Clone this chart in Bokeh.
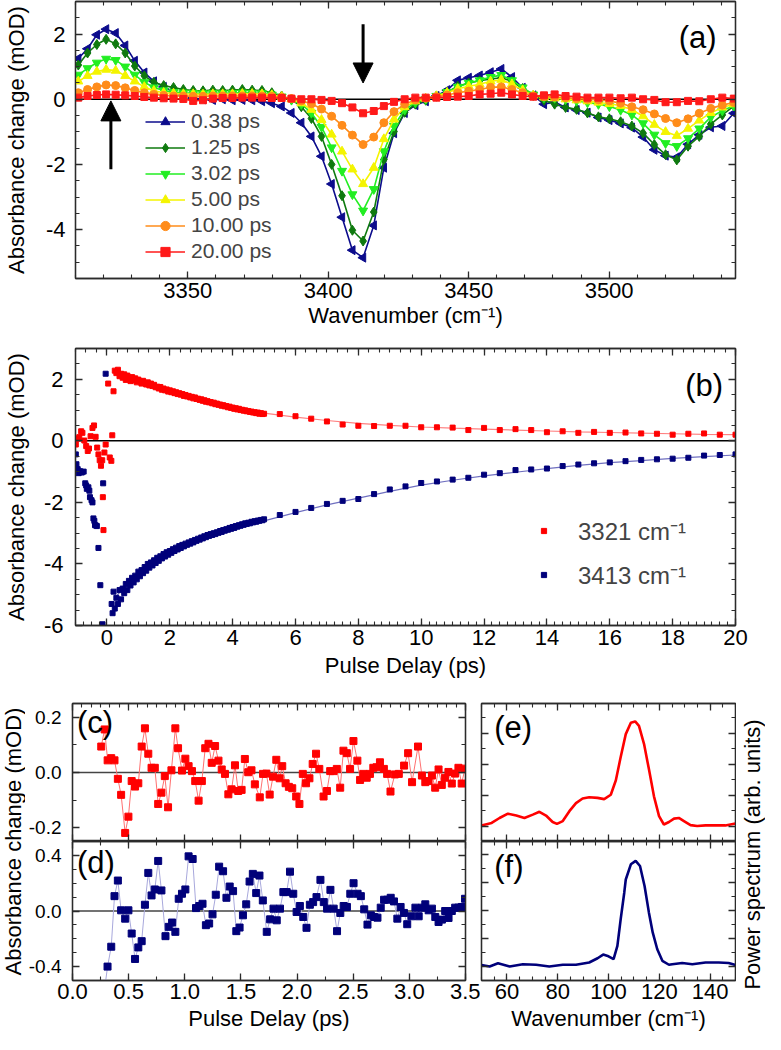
import numpy as np
from bokeh.plotting import figure
from bokeh.models import (Range1d, LinearAxis, FixedTicker, Span, Legend, LegendItem,
                          Arrow, NormalHead, Label)
from bokeh.layouts import column, row
from bokeh.embed import file_html
from bokeh.resources import INLINE
from bokeh.core.properties import value

FONT = "Liberation Sans"
AX = "#2b2b2b"

# ---------------- data: panel (a) transient spectra ----------------
wavenumber = [3311.0, 3314.3, 3317.6, 3320.9, 3324.3, 3327.7, 3331.1, 3334.5,
              3337.9, 3341.4, 3344.9, 3348.4, 3351.9, 3355.4, 3358.9, 3362.4,
              3365.9, 3369.4, 3372.9, 3376.4, 3379.9, 3383.4, 3386.9, 3390.4,
              3394.0, 3397.6, 3401.2, 3404.9, 3408.6, 3412.4, 3416.2, 3419.8,
              3423.4, 3427.2, 3431.0, 3434.7, 3438.5, 3442.3, 3446.1, 3450.0,
              3453.9, 3457.8, 3461.6, 3465.4, 3469.2, 3473.0, 3476.8, 3480.6,
              3484.5, 3488.4, 3492.3, 3496.2, 3500.1, 3504.1, 3508.1, 3512.1,
              3516.1, 3520.1, 3524.1, 3528.1, 3532.1, 3536.2, 3540.3, 3544.4]
spec_038 = [1.25, 1.55, 1.98, 2.15, 2.03, 1.65, 1.18, 0.82,
            0.55, 0.38, 0.24, 0.12, 0.04, 0.0, -0.02, 0.0,
            -0.03, -0.02, -0.03, -0.06, -0.12, -0.22, -0.42, -0.72,
            -1.14, -1.75, -2.6, -3.62, -4.63, -4.86, -3.87, -2.1,
            -1.04, -0.42, -0.18, -0.06, 0.1, 0.28, 0.58, 0.66,
            0.73, 0.83, 0.93, 0.68, 0.35, 0.12, -0.15, -0.08,
            -0.25, -0.33, -0.41, -0.56, -0.64, -0.74, -0.87, -1.16,
            -1.55, -1.73, -1.78, -1.38, -1.09, -0.86, -0.82, -0.43]
spec_125 = [1.05, 1.42, 1.68, 1.84, 1.70, 1.42, 1.02, 0.72,
            0.52, 0.42, 0.36, 0.30, 0.27, 0.26, 0.28, 0.27,
            0.28, 0.30, 0.28, 0.27, 0.20, 0.10, 0.0, -0.23,
            -0.59, -1.14, -2.0, -2.96, -4.02, -4.35, -3.46, -1.85,
            -0.99, -0.40, -0.15, -0.03, 0.10, 0.22, 0.40, 0.50,
            0.57, 0.62, 0.66, 0.55, 0.33, 0.12, -0.03, -0.15,
            -0.25, -0.31, -0.42, -0.54, -0.60, -0.69, -0.82, -1.04,
            -1.39, -1.70, -1.86, -1.44, -1.14, -0.76, -0.48, -0.21]
spec_302 = [0.75, 0.95, 1.12, 1.24, 1.20, 1.00, 0.75, 0.52,
            0.36, 0.27, 0.22, 0.20, 0.19, 0.18, 0.19, 0.18,
            0.19, 0.20, 0.19, 0.18, 0.14, 0.08, -0.02, -0.15,
            -0.42, -0.85, -1.48, -2.2, -2.92, -3.42, -2.76, -1.6,
            -0.82, -0.32, -0.10, 0.0, 0.10, 0.22, 0.38, 0.50,
            0.58, 0.68, 0.74, 0.58, 0.36, 0.14, 0.05, 0.04,
            0.0, -0.05, -0.10, -0.15, -0.22, -0.33, -0.48, -0.74,
            -1.09, -1.35, -1.44, -1.2, -0.9, -0.55, -0.35, -0.2]
spec_500 = [0.55, 0.72, 0.85, 0.91, 0.88, 0.72, 0.55, 0.38,
            0.26, 0.20, 0.18, 0.16, 0.16, 0.15, 0.16, 0.16,
            0.16, 0.17, 0.17, 0.16, 0.13, 0.08, 0.0, -0.12,
            -0.32, -0.63, -1.08, -1.6, -2.15, -2.6, -2.1, -1.22,
            -0.62, -0.24, -0.06, 0.02, 0.10, 0.20, 0.32, 0.40,
            0.46, 0.55, 0.60, 0.46, 0.28, 0.12, 0.06, 0.03,
            0.0, -0.03, -0.06, -0.1, -0.14, -0.2, -0.32, -0.52,
            -0.78, -1.0, -1.12, -0.9, -0.65, -0.42, -0.25, -0.15]
spec_1000 = [0.2, 0.3, 0.38, 0.44, 0.42, 0.35, 0.27, 0.2,
             0.15, 0.12, 0.1, 0.1, 0.09, 0.09, 0.1, 0.1,
             0.1, 0.1, 0.1, 0.1, 0.09, 0.06, 0.02, -0.05,
             -0.14, -0.3, -0.52, -0.8, -1.1, -1.39, -1.16, -0.72,
             -0.38, -0.15, -0.02, 0.03, 0.08, 0.13, 0.2, 0.25,
             0.3, 0.37, 0.38, 0.3, 0.2, 0.1, 0.08, 0.07,
             0.05, 0.02, 0.0, -0.02, -0.05, -0.12, -0.23, -0.32,
             -0.45, -0.59, -0.72, -0.6, -0.43, -0.28, -0.18, -0.1]
spec_2000 = [0.05, 0.1, 0.13, 0.15, 0.14, 0.12, 0.1, 0.07,
             0.05, 0.03, 0.02, 0.01, -0.05, -0.03, 0.02, 0.04,
             0.04, 0.05, 0.05, 0.05, 0.04, 0.04, 0.02, 0.0,
             0.0, -0.02, -0.05, -0.12, -0.25, -0.43, -0.36, -0.21,
             -0.08, 0.0, 0.05, 0.05, 0.05, 0.07, 0.08, 0.1,
             0.15, 0.17, 0.2, 0.15, 0.1, 0.08, 0.12, 0.15,
             0.1, 0.08, 0.05, 0.05, 0.05, 0.03, 0.05, 0.0,
             -0.02, -0.09, -0.09, -0.05, -0.06, 0.0, 0.05, 0.02]
delay_labels = ["0.38 ps", "1.25 ps", "3.02 ps", "5.00 ps", "10.00 ps", "20.00 ps"]

# arrows in (a) (data units)
arrow_down = (3412.4, 2.3, 0.5)
arrow_up = (3322.6, -2.15, -0.05)

# ---------------- data: panel (b) kinetics ----------------
red_pre_t = [-0.99, -0.93, -0.88, -0.82, -0.78, -0.72, -0.66, -0.61, -0.57, -0.52,
             -0.46, -0.41, -0.36, -0.31, -0.27, -0.23, -0.19, -0.15, -0.13, -0.11,
             -0.08, -0.04, 0.04, 0.09, 0.14, 0.17, 0.21]
red_pre_v = [-0.12, 0.07, 0.12, 0.31, 0.26, 0.01, -0.17, -0.33, -0.25, 0.15,
             0.42, 0.5, 0.13, -0.22, -0.44, -0.63, -0.81, -0.63, -1.83, -2.9,
             -0.38, -0.12, 1.86, -0.54, -0.65, 0.18, 1.61]
navy_pre_t = [-0.99, -0.97, -0.93, -0.9, -0.86, -0.83, -0.8, -0.74, -0.69, -0.66,
              -0.64, -0.59, -0.56, -0.54, -0.49, -0.46, -0.43, -0.4, -0.38, -0.35,
              -0.32, -0.27, -0.21, -0.14, -0.12, -0.04, 0.15, 0.18, 0.21]
navy_pre_v = [-0.44, -0.76, -0.92, -1.05, -0.99, -1.0, -1.03, -1.0, -1.38, -1.45,
              -1.56, -1.51, -1.62, -1.83, -1.93, -2.0, -2.52, -2.6, -2.74, -2.75,
              -2.77, -3.48, -4.69, -5.96, -1.38, 2.18, -5.3, -5.6, -4.9]
dense_t = [0.25, 0.3, 0.35, 0.4, 0.45, 0.5, 0.55, 0.6, 0.65, 0.7,
           0.75, 0.8, 0.85, 0.9, 0.95, 1.0, 1.05, 1.1, 1.15, 1.2,
           1.25, 1.3, 1.35, 1.4, 1.45, 1.5, 1.55, 1.6, 1.65, 1.7,
           1.75, 1.8, 1.85, 1.9, 1.95, 2.0, 2.05, 2.1, 2.15, 2.2,
           2.25, 2.3, 2.35, 2.4, 2.45, 2.5, 2.55, 2.6, 2.65, 2.7,
           2.75, 2.8, 2.85, 2.9, 2.95, 3.0, 3.05, 3.1, 3.15, 3.2,
           3.25, 3.3, 3.35, 3.4, 3.45, 3.5, 3.55, 3.6, 3.65, 3.7,
           3.75, 3.8, 3.85, 3.9, 3.95, 4.0, 4.05, 4.1, 4.15, 4.2,
           4.25, 4.3, 4.35, 4.4, 4.45, 4.5, 4.55, 4.6, 4.65, 4.7,
           4.75, 4.8, 4.85, 4.9, 4.95, 5.0]
red_dense = [2.28, 2.2, 2.31, 2.1, 2.18, 2.05, 2.16, 1.98, 2.12, 2.02,
             1.94, 2.07, 1.96, 2.03, 1.9, 1.99, 1.93, 1.86, 1.95, 1.88,
             1.83, 1.9, 1.8, 1.86, 1.78, 1.82, 1.74, 1.76, 1.7, 1.75,
             1.66, 1.7, 1.64, 1.67, 1.6, 1.64, 1.58, 1.61, 1.55, 1.58,
             1.52, 1.55, 1.5, 1.52, 1.46, 1.49, 1.44, 1.46, 1.41, 1.43,
             1.38, 1.41, 1.36, 1.37, 1.33, 1.35, 1.3, 1.32, 1.27, 1.29,
             1.25, 1.26, 1.22, 1.24, 1.19, 1.21, 1.17, 1.18, 1.14, 1.16,
             1.12, 1.13, 1.09, 1.11, 1.07, 1.08, 1.04, 1.06, 1.02, 1.04,
             1.0, 1.01, 0.98, 0.99, 0.96, 0.97, 0.94, 0.95, 0.92, 0.93,
             0.9, 0.92, 0.88, 0.9, 0.87, 0.88]
navy_dense = [-5.45, -5.1, -5.3, -4.85, -5.15, -4.8, -4.95, -4.65, -4.85, -4.55,
              -4.7, -4.45, -4.6, -4.38, -4.5, -4.25, -4.4, -4.2, -4.3, -4.1,
              -4.22, -4.0, -4.12, -3.95, -4.05, -3.88, -3.97, -3.8, -3.9, -3.75,
              -3.82, -3.68, -3.76, -3.62, -3.7, -3.58, -3.64, -3.52, -3.58, -3.47,
              -3.53, -3.42, -3.48, -3.38, -3.43, -3.34, -3.38, -3.3, -3.34, -3.26,
              -3.3, -3.22, -3.25, -3.18, -3.21, -3.14, -3.17, -3.1, -3.13, -3.06,
              -3.09, -3.03, -3.06, -3.0, -3.03, -2.97, -2.99, -2.93, -2.96, -2.9,
              -2.92, -2.87, -2.89, -2.83, -2.86, -2.8, -2.83, -2.77, -2.79, -2.74,
              -2.76, -2.71, -2.73, -2.68, -2.7, -2.66, -2.68, -2.63, -2.65, -2.61,
              -2.63, -2.59, -2.6, -2.57, -2.58, -2.55]
sparse_t = [5.5, 6.0, 6.5, 7.0, 7.5, 8.0, 8.5, 9.0, 9.5, 10.0,
            10.5, 11.0, 11.5, 12.0, 12.5, 13.0, 13.5, 14.0, 14.5, 15.0,
            15.5, 16.0, 16.5, 17.0, 17.5, 18.0, 18.5, 19.0, 19.5, 20.0]
red_sparse = [0.87, 0.8, 0.72, 0.63, 0.53, 0.49, 0.48, 0.49, 0.49, 0.44,
              0.44, 0.43, 0.35, 0.42, 0.35, 0.38, 0.35, 0.28, 0.31, 0.26,
              0.29, 0.26, 0.27, 0.24, 0.23, 0.2, 0.23, 0.24, 0.2, 0.2]
navy_sparse = [-2.41, -2.31, -2.18, -2.05, -1.95, -1.89, -1.73, -1.58, -1.48, -1.37,
               -1.32, -1.26, -1.2, -1.1, -1.05, -0.95, -0.93, -0.9, -0.82, -0.77,
               -0.73, -0.7, -0.66, -0.62, -0.6, -0.58, -0.55, -0.48, -0.46, -0.44]
fit_t = [0.3, 0.5, 1, 1.5, 2, 2.5, 3, 3.5, 4, 4.5, 5, 6, 7, 8, 9, 10,
         11, 12, 13, 14, 15, 16, 17, 18, 19, 20]
red_fit = [2.2, 2.1, 1.95, 1.79, 1.63, 1.49, 1.36, 1.23, 1.11, 1.0, 0.9, 0.77, 0.66,
           0.57, 0.5, 0.45, 0.41, 0.38, 0.35, 0.32, 0.29, 0.27, 0.25, 0.23, 0.21, 0.2]
navy_fit = [-5.05, -4.8, -4.35, -4.0, -3.67, -3.42, -3.22, -3.05, -2.9, -2.75, -2.6,
            -2.33, -2.08, -1.86, -1.64, -1.44, -1.28, -1.14, -1.02, -0.9, -0.8,
            -0.71, -0.64, -0.57, -0.51, -0.46]
kin_labels = ["3321 cm\u207b\u00b9", "3413 cm\u207b\u00b9"]

# ---------------- data: panels (c), (d) residual oscillations ----------------
c_t = [0.256, 0.286, 0.313, 0.345, 0.374, 0.404, 0.433, 0.469, 0.498, 0.527,
       0.557, 0.586, 0.616, 0.645, 0.675, 0.704, 0.733, 0.763, 0.792, 0.822,
       0.851, 0.881, 0.916, 0.94, 0.975, 1.005, 1.034, 1.064, 1.093, 1.123,
       1.152, 1.182, 1.211, 1.24, 1.27, 1.3, 1.329, 1.358, 1.388, 1.417,
       1.447, 1.476, 1.506, 1.535, 1.565, 1.594, 1.624, 1.668, 1.697, 1.727,
       1.756, 1.786, 1.815, 1.845, 1.868, 1.898, 1.927, 1.957, 1.992, 2.021,
       2.051, 2.08, 2.11, 2.139, 2.169, 2.198, 2.236, 2.266, 2.295, 2.325,
       2.354, 2.384, 2.413, 2.443, 2.472, 2.502, 2.537, 2.561, 2.59, 2.62,
       2.649, 2.679, 2.708, 2.738, 2.773, 2.802, 2.832, 2.871, 2.906, 2.953,
       2.989, 3.024, 3.077, 3.112, 3.142, 3.171, 3.201, 3.23, 3.26, 3.289,
       3.318, 3.348, 3.378, 3.407, 3.437, 3.466, 3.495]
c_v = [0.094, 0.156, 0.044, 0.052, 0.044, -0.023, -0.081, -0.219, -0.16, -0.031,
       -0.051, -0.039, 0.094, 0.16, 0.068, 0.017, 0.017, -0.114, -0.073, -0.013,
       -0.126, 0.008, 0.16, 0.088, 0.007, 0.05, 0.023, 0.005, -0.031, -0.102,
       -0.031, 0.088, 0.104, 0.035, 0.096, 0.043, 0.011, -0.005, -0.079, -0.061,
       0.026, -0.067, -0.063, 0.049, 0.001, 0.008, -0.043, -0.09, -0.005, -0.004,
       -0.08, -0.015, 0.046, -0.021, 0.023, -0.039, -0.052, -0.057, -0.087, -0.114,
       -0.005, -0.039, -0.021, 0.031, 0.068, 0.013, -0.087, -0.067, 0.005, 0.005,
       0.013, -0.055, 0.079, 0.07, 0.013, 0.114, 0.043, -0.027, -0.005, -0.019,
       -0.005, 0.017, 0.019, 0.037, 0.013, -0.005, -0.069, -0.007, -0.005, 0.025,
       0.07, -0.035, 0.094, -0.011, -0.035, -0.031, -0.011, -0.055, 0.011, -0.045,
       -0.019, 0.002, -0.04, -0.004, 0.017, -0.04, 0.014]
d_t = [0.28, 0.312, 0.345, 0.374, 0.404, 0.433, 0.469, 0.498, 0.527, 0.557, 0.586,
       0.616, 0.645, 0.675, 0.704, 0.733, 0.763, 0.792, 0.828, 0.857, 0.887,
       0.916, 0.946, 0.975, 1.005, 1.034, 1.07, 1.1, 1.129, 1.158, 1.188,
       1.217, 1.247, 1.276, 1.306, 1.341, 1.371, 1.4, 1.43, 1.459, 1.488,
       1.518, 1.547, 1.577, 1.606, 1.636, 1.665, 1.695, 1.73, 1.76, 1.79,
       1.819, 1.848, 1.878, 1.907, 1.937, 1.966, 1.996, 2.025, 2.055, 2.084,
       2.114, 2.143, 2.173, 2.208, 2.238, 2.267, 2.297, 2.326, 2.356, 2.385,
       2.415, 2.444, 2.474, 2.503, 2.539, 2.568, 2.598, 2.627, 2.657, 2.686,
       2.716, 2.745, 2.775, 2.804, 2.834, 2.863, 2.893, 2.922, 2.952, 2.981,
       3.018, 3.054, 3.083, 3.113, 3.142, 3.172, 3.201, 3.231, 3.26, 3.29,
       3.319, 3.349, 3.378, 3.408, 3.437, 3.467, 3.496]
d_v = [-0.6, -0.4, -0.257, 0.107, 0.219, 0.005, -0.055, 0.005, -0.162, -0.345, -0.262,
       -0.217, 0.045, 0.274, 0.112, 0.155, 0.36, 0.148, -0.181, -0.114, -0.083,
       -0.15, 0.088, 0.124, 0.155, 0.393, 0.374, 0.021, 0.036, 0.052, -0.102,
       -0.09, -0.024, 0.117, 0.319, 0.286, 0.095, 0.176, 0.143, -0.145, -0.119,
       -0.031, 0.048, 0.212, 0.267, 0.129, 0.255, 0.076, -0.15, -0.06, 0.017,
       -0.067, 0.017, 0.136, 0.136, 0.283, 0.124, -0.007, 0.036, -0.043, -0.121,
       0.045, 0.064, 0.1, 0.224, 0.064, 0.017, 0.152, 0.017, -0.145, -0.014,
       0.036, 0.029, 0.124, 0.2, 0.124, 0.107, 0.012, -0.098, -0.031, -0.043,
       -0.048, 0.024, 0.081, 0.081, 0.095, 0.069, -0.055, 0.029, -0.014, -0.095,
       -0.038, 0.024, -0.038, 0.024, 0.048, 0.005, 0.017, -0.043, -0.079, -0.062,
       0.0, -0.05, 0.0, 0.024, 0.024, 0.029, 0.088]

# ---------------- data: panels (e), (f) power spectra ----------------
e_x = [50.0, 54.0, 57.1, 60.4, 63.7, 66.9, 70.2, 72.8, 75.4, 78.0,
       79.7, 82.0, 84.6, 87.2, 89.8, 92.4, 95.7, 98.3, 100.9, 102.9,
       104.8, 106.8, 108.8, 110.5, 112.0, 114.0, 116.0, 117.9, 119.9, 121.8,
       123.8, 125.8, 127.7, 129.7, 132.3, 134.9, 138.2, 142.1, 146.0, 150.0]
e_y = [0.02, 0.1, 0.26, 0.4, 0.34, 0.26, 0.37, 0.46, 0.34, 0.13,
       0.07, 0.16, 0.48, 0.74, 0.89, 0.93, 0.91, 0.87, 1.01, 1.48,
       2.23, 2.97, 3.34, 3.38, 3.24, 2.65, 1.8, 0.96, 0.32, 0.05,
       0.13, 0.24, 0.26, 0.16, 0.03, 0.0, 0.02, 0.02, 0.02, 0.08]
f_x = [50.0, 53.2, 56.5, 61.1, 66.3, 71.5, 76.7, 82.0, 87.2, 92.4,
       95.7, 97.9, 100.0, 102.0, 103.5, 104.8, 106.2, 106.8, 108.8, 110.7,
       112.4, 114.2, 115.9, 117.4, 119.2, 121.2, 123.8, 125.1, 129.0, 133.0,
       138.2, 143.4, 147.3, 150.0]
f_y = [0.06, 0.01, 0.12, 0.01, 0.09, 0.07, 0.01, 0.07, 0.07, 0.15,
       0.3, 0.43, 0.37, 0.27, 0.74, 1.69, 2.63, 3.1, 3.64, 3.76,
       3.58, 2.87, 1.93, 1.22, 0.62, 0.21, 0.07, 0.09, 0.13, 0.09,
       0.15, 0.15, 0.13, 0.06]

# ---------------- tick labels ----------------
A_XTICKS = [3350, 3400, 3450, 3500]
A_XLABELS = ["3350", "3400", "3450", "3500"]
A_YTICKS = [-4, -2, 0, 2]
A_YLABELS = ["-4", "-2", "0", "2"]
B_XTICKS = [0, 2, 4, 6, 8, 10, 12, 14, 16, 18, 20]
B_XLABELS = ["0", "2", "4", "6", "8", "10", "12", "14", "16", "18", "20"]
B_YTICKS = [-6, -4, -2, 0, 2]
B_YLABELS = ["-6", "-4", "-2", "0", "2"]
C_YTICKS = [-0.2, 0, 0.2]
C_YLABELS = ["-0.2", "0.0", "0.2"]
D_YTICKS = [-0.4, 0, 0.4]
D_YLABELS = ["-0.4", "0.0", "0.4"]
D_XTICKS = [0, 0.5, 1, 1.5, 2, 2.5, 3, 3.5]
D_XLABELS = ["0.0", "0.5", "1.0", "1.5", "2.0", "2.5", "3.0", "3.5"]
F_XTICKS = [60, 80, 100, 120, 140]
F_XLABELS = ["60", "80", "100", "120", "140"]
E_YTICKS = [0, 1, 2, 3]
F_YTICKS = [0, 1, 2, 3, 4]

TICK_FS = "22px"


def steps(a, b, step):
    n = int(round((b - a) / step))
    return [round(a + i * step, 6) for i in range(n + 1)]


def style(ax, major, minor, labels=None, size=TICK_FS, standoff=6):
    ax.ticker = FixedTicker(ticks=major, minor_ticks=minor)
    ax.axis_line_color = AX
    ax.axis_line_width = 1.3
    ax.major_tick_line_color = AX
    ax.minor_tick_line_color = AX
    ax.major_tick_line_width = 1.3
    ax.minor_tick_line_width = 1.1
    ax.major_tick_in = 7
    ax.major_tick_out = 0
    ax.minor_tick_in = 4
    ax.minor_tick_out = 0
    ax.major_label_text_font = FONT
    ax.major_label_text_color = "black"
    ax.axis_label_text_font = FONT
    ax.axis_label_text_font_style = "normal"
    ax.axis_label_text_font_size = "22px"
    ax.axis_label_text_color = "black"
    if labels is not None:
        ax.major_label_text_font_size = size
        ax.major_label_standoff = standoff
        ax.major_label_overrides = dict(zip(major, labels))
    else:
        ax.major_label_text_font_size = "0px"
        ax.major_label_standoff = 0
        ax.major_label_overrides = {t: "" for t in major}


def mk(w, h, xr, yr, bl, br, bt, bb):
    p = figure(width=w, height=h, x_range=Range1d(*xr), y_range=Range1d(*yr),
               output_backend="svg", toolbar_location=None, tools="",
               min_border_left=bl, min_border_right=br,
               min_border_top=bt, min_border_bottom=bb)
    p.xgrid.visible = False
    p.ygrid.visible = False
    p.outline_line_color = AX
    p.outline_line_width = 1.3
    p.background_fill_color = "white"
    p.border_fill_color = "white"
    return p


def mirror(p, xmaj, xmin, ymaj, ymin):
    top = LinearAxis()
    style(top, xmaj, xmin)
    p.add_layout(top, "above")
    right = LinearAxis()
    style(right, ymaj, ymin)
    p.add_layout(right, "right")


def zero(p, color="black", width=1.5):
    p.add_layout(Span(location=0, dimension="width", line_color=color,
                      line_width=width, level="underlay"))


def tag(p, x, y, txt, align="center"):
    p.add_layout(Label(x=x, y=y, text=txt, text_font=FONT, text_font_size="31px",
                       text_align=align, text_baseline="middle", text_color="black"))


# ================= panel (a) =================
pa = mk(765, 332, (3310, 3545), (-5.5, 3.0), 69, 30, 1, 54)
style(pa.xaxis[0], A_XTICKS, steps(3310, 3540, 10), A_XLABELS, standoff=4)
style(pa.yaxis[0], A_YTICKS, steps(-5.5, 3.0, 0.5), A_YLABELS, standoff=10)
pa.xaxis[0].axis_label = "Wavenumber (cm\u207b\u00b9)"
pa.xaxis[0].axis_label_standoff = 2
pa.yaxis[0].axis_label = "Absorbance change (mOD)"
pa.yaxis[0].axis_label_standoff = 14
mirror(pa, A_XTICKS, steps(3310, 3540, 10), A_YTICKS, steps(-5.5, 3.0, 0.5))
zero(pa)

series_a = [spec_038, spec_125, spec_302, spec_500, spec_1000, spec_2000]
colors_a = ["#0c0c8c", "#0f7a0f", "#22ee22", "#f4f400", "#ff8c1a", "#ff1a1a"]
markers_a = ["triangle", "diamond", "inverted_triangle", "triangle", "circle", "square"]
angles_a = [np.pi / 2, 0, 0, 0, 0, 0]
sizes_a = [9, 10, 9, 9, 8, 7]
items = []
for ys, col, mk_, ang, sz, lab in zip(series_a, colors_a, markers_a, angles_a, sizes_a, delay_labels):
    rl = pa.line(wavenumber, ys, line_color=col, line_width=1.6)
    rs = pa.scatter(wavenumber, ys, marker=mk_, angle=ang, size=sz,
                    fill_color=col, line_color=col)
    items.append(LegendItem(label=lab, renderers=[rl, rs]))

leg_a = Legend(items=items, location=(70, 15), orientation="vertical",
               glyph_width=40, glyph_height=23, label_height=23, spacing=2,
               padding=0, margin=0, label_standoff=6,
               label_text_font=FONT, label_text_font_size="21px",
               border_line_color=None, background_fill_alpha=0)
pa.add_layout(leg_a)

for (ax_, y0, y1) in [arrow_down, arrow_up]:
    pa.add_layout(Arrow(end=NormalHead(size=20, fill_color="black", line_color="black"),
                        x_start=ax_, y_start=y0, x_end=ax_, y_end=y1,
                        line_width=3, line_color="black"))
tag(pa, 3531.5, 1.9, "(a)")

# ================= panel (b) =================
pb = mk(765, 351, (-1, 20), (-6, 3), 69, 30, 16, 58)
style(pb.xaxis[0], B_XTICKS, steps(-1, 20, 0.25), B_XLABELS, standoff=4)
style(pb.yaxis[0], B_YTICKS, steps(-6, 3, 0.5), B_YLABELS, standoff=12)
pb.xaxis[0].axis_label = "Pulse Delay (ps)"
pb.xaxis[0].axis_label_standoff = 5
pb.yaxis[0].axis_label = "Absorbance change (mOD)"
pb.yaxis[0].axis_label_standoff = 12
mirror(pb, B_XTICKS, steps(-1, 20, 1 / 3), B_YTICKS, steps(-6, 3, 0.5))
zero(pb)
pb.line(fit_t, red_fit, line_color="#ff8080", line_width=1.2)
pb.line(fit_t, navy_fit, line_color="#7070c0", line_width=1.2)
r_red = pb.scatter(red_pre_t + dense_t + sparse_t, red_pre_v + red_dense + red_sparse,
                   marker="square", size=5, fill_color="#ff0000", line_color="#ff0000")
r_navy = pb.scatter(navy_pre_t + dense_t + sparse_t, navy_pre_v + navy_dense + navy_sparse,
                    marker="square", size=5, fill_color="#00007a", line_color="#00007a")
leg_b = Legend(items=[LegendItem(label=kin_labels[0], renderers=[r_red]),
                      LegendItem(label=kin_labels[1], renderers=[r_navy])],
               location=(462, 34), glyph_width=13, glyph_height=13, label_height=26,
               spacing=11, padding=0, margin=0, label_standoff=28,
               label_text_font=FONT, label_text_font_size="24px",
               border_line_color=None, background_fill_alpha=0)
pb.add_layout(leg_b)
tag(pb, 19.0, 1.8, "(b)")

# ================= panels (c), (d) =================
pc = mk(455, 158, (0, 3.5), (-0.25, 0.25), 44, 15, 20, 0)
style(pc.xaxis[0], D_XTICKS, steps(0, 3.5, 0.25))
style(pc.yaxis[0], C_YTICKS, [-0.1, 0.1], C_YLABELS, size="19px", standoff=11)
mirror(pc, D_XTICKS, steps(0, 3.5, 1 / 12), C_YTICKS, [-0.1, 0.1])
zero(pc, "#444444", 1.3)
pc.line(c_t, c_v, line_color="#ff7070", line_width=1)
pc.scatter(c_t, c_v, marker="square", size=7, fill_color="#ff0000", line_color="#ff0000")
tag(pc, 0.04, 0.18, "(c)", align="left")

pd = mk(455, 195, (0, 3.5), (-0.5, 0.5), 44, 15, 0, 56)
style(pd.xaxis[0], D_XTICKS, steps(0, 3.5, 0.25), D_XLABELS, standoff=3)
style(pd.yaxis[0], D_YTICKS, steps(-0.5, 0.5, 0.1), D_YLABELS, size="19px", standoff=11)
pd.xaxis[0].axis_label = "Pulse Delay (ps)"
pd.xaxis[0].axis_label_standoff = 4
mirror(pd, D_XTICKS, steps(0, 3.5, 0.25), D_YTICKS, steps(-0.5, 0.5, 0.1))
zero(pd, "#444444", 1.3)
pd.line(d_t, d_v, line_color="#a8a8dc", line_width=1)
pd.scatter(d_t, d_v, marker="square", size=7, fill_color="#00007a", line_color="#00007a")
tag(pd, 0.04, 0.35, "(d)", align="left")

# ================= panels (e), (f) =================
pe = mk(256, 158, (50, 150), (-0.5, 3.96), 1, 1, 20, 0)
style(pe.xaxis[0], F_XTICKS, steps(50, 150, 5))
style(pe.yaxis[0], E_YTICKS, steps(-0.5, 3.5, 0.5))
mirror(pe, F_XTICKS, steps(50, 150, 5), E_YTICKS, steps(-0.5, 3.5, 0.5))
pe.line(e_x, e_y, line_color="#ff0000", line_width=2.6)
tag(pe, 55, 3.19, "(e)", align="left")

pf = mk(256, 195, (50, 150), (-0.49, 4.45), 1, 1, 0, 56)
style(pf.xaxis[0], F_XTICKS, steps(50, 150, 5), F_XLABELS, standoff=3)
style(pf.yaxis[0], F_YTICKS, steps(-0.5, 4.0, 0.5))
pf.xaxis[0].axis_label = "Wavenumber (cm\u207b\u00b9)"
pf.xaxis[0].axis_label_standoff = 4
mirror(pf, F_XTICKS, steps(50, 150, 5), F_YTICKS, steps(-0.5, 4.0, 0.5))
pf.line(f_x, f_y, line_color="#00007a", line_width=2.6)
tag(pf, 55, 3.56, "(f)", align="left")


def label_fig(w, h, x, y, txt):
    p = figure(width=w, height=h, x_range=Range1d(0, w), y_range=Range1d(0, h),
               output_backend="svg", toolbar_location=None, tools="",
               x_axis_type=None, y_axis_type=None,
               min_border_left=0, min_border_right=0, min_border_top=0, min_border_bottom=0)
    p.outline_line_color = None
    p.text(x=[x], y=[y], text=[txt], angle=np.pi / 2, text_align="center",
           text_baseline="middle", text_font=value(FONT), text_font_size="22px",
           text_color="black")
    return p


left_lbl = label_fig(25, 353, 13, 195, "Absorbance change (mOD)")
right_lbl = label_fig(29, 353, 16, 182, "Power spectrum (arb. units)")

layout = column(pa, pb, row(left_lbl, column(pc, pd), column(pe, pf), right_lbl))
open("out.html", "w").write(file_html(layout, INLINE))
